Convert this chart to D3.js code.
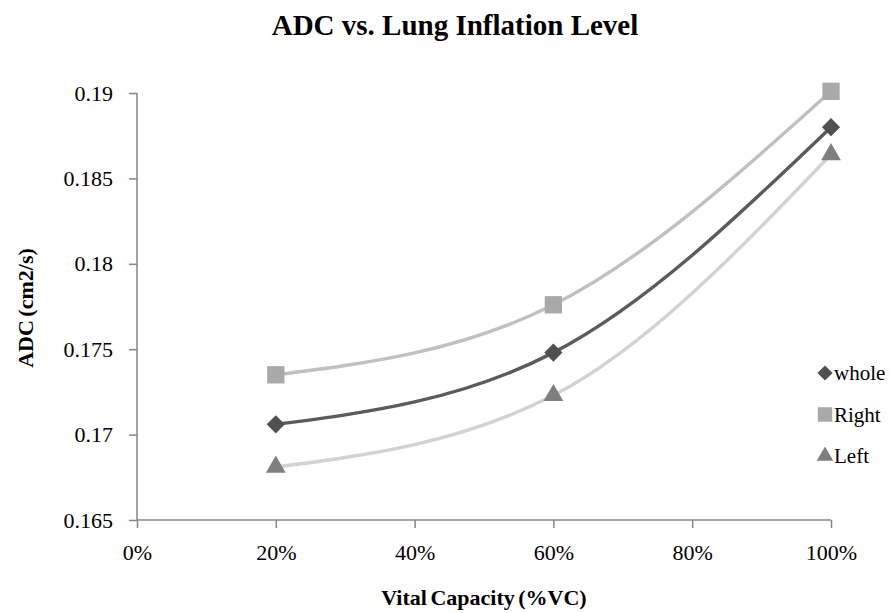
<!DOCTYPE html>
<html>
<head>
<meta charset="utf-8">
<script src="https://cdn.jsdelivr.net/npm/d3@7"></script>
<style>
  body { margin: 0; background: #fff; }
  text { font-family: "Liberation Serif", "Times New Roman", serif; fill: #000; }
</style>
</head>
<body>
<svg id="chart" width="895" height="613"></svg>
<script>
// data
var vcLevels = [0.2, 0.6, 1.0];
var seriesNames = ["whole", "Right", "Left"];
var wholeADC = [0.1706, 0.1748, 0.1880];
var rightADC = [0.1735, 0.1776, 0.1901];
var leftADC  = [0.1681, 0.1723, 0.1864];
var xTicks = [0, 0.2, 0.4, 0.6, 0.8, 1.0];
var yTicks = [0.165, 0.17, 0.175, 0.18, 0.185, 0.19];

var seriesStyle = {
  whole: { line: "#5b5b5b", marker: "#505050", shape: d3.symbolSquare, size: 165, rot: 45 },
  Right: { line: "#c0c0c0", marker: "#a9a9a9", shape: d3.symbolSquare, size: 300, rot: 0 },
  Left:  { line: "#d2d2d2", marker: "#7f7f7f", shape: d3.symbolTriangle, size: 170, rot: 0 }
};

var series = [
  { name: "whole", values: wholeADC },
  { name: "Right", values: rightADC },
  { name: "Left", values: leftADC }
];

var svg = d3.select("#chart");
var plotL = 137, plotR = 831, plotT = 93, plotB = 520;

var x = d3.scaleLinear().domain([0, 1]).range([plotL, plotR]);
var y = d3.scaleLinear().domain([0.165, 0.19]).range([plotB, plotT]);

// title
svg.append("text")
  .attr("x", 455).attr("y", 35)
  .attr("text-anchor", "middle")
  .style("font-size", "29px").style("font-weight", "bold")
  .text("ADC vs. Lung Inflation Level");

// axes
var xAxis = svg.append("g")
  .attr("transform", "translate(0," + plotB + ")")
  .call(d3.axisBottom(x).tickValues(xTicks).tickFormat(d3.format(".0%")).tickSize(8).tickPadding(16));
var yAxis = svg.append("g")
  .attr("transform", "translate(" + plotL + ",0)")
  .call(d3.axisLeft(y).tickValues(yTicks).tickFormat(function(d) { return +d.toFixed(3) + ""; }).tickSize(8).tickPadding(16));

[xAxis, yAxis].forEach(function(g) {
  g.select(".domain").attr("stroke", "#868686").attr("stroke-width", 1.5);
  g.selectAll(".tick line").attr("stroke", "#868686").attr("stroke-width", 1.5);
  g.selectAll(".tick text").style("font-size", "22px").style("font-family", "Liberation Serif").attr("fill", "#000");
});
// outward ticks only, with no outer end caps
xAxis.select(".domain").attr("d", "M" + plotL + ",0H" + plotR);
yAxis.select(".domain").attr("d", "M0," + plotB + "V" + plotT);

// axis titles
svg.append("text")
  .attr("x", 484).attr("y", 605)
  .attr("text-anchor", "middle")
  .style("font-size", "22px").style("font-weight", "bold")
  .style("word-spacing", "-2px")
  .text("Vital Capacity (%VC)");
svg.append("text")
  .attr("transform", "translate(33,308) rotate(-90)")
  .attr("text-anchor", "middle")
  .style("font-size", "22px").style("font-weight", "bold")
  .style("word-spacing", "-2px")
  .text("ADC (cm2/s)");

// smoothed lines
var line = d3.line()
  .x(function(d, i) { return x(vcLevels[i]); })
  .y(function(d) { return y(d); })
  .curve(d3.curveMonotoneX);

var order = ["Left", "Right", "whole"];
order.forEach(function(name) {
  var s = series.find(function(d) { return d.name === name; });
  svg.append("path")
    .datum(s.values)
    .attr("fill", "none")
    .attr("stroke", seriesStyle[name].line)
    .attr("stroke-width", 3.4)
    .attr("d", line);
});

// markers
series.forEach(function(s) {
  var st = seriesStyle[s.name];
  svg.append("g").selectAll("path")
    .data(s.values)
    .enter().append("path")
    .attr("transform", function(d, i) { return "translate(" + x(vcLevels[i]) + "," + y(d) + ") rotate(" + st.rot + ")"; })
    .attr("d", d3.symbol().type(st.shape).size(st.size))
    .attr("fill", st.marker);
});

// legend
var legend = svg.append("g").attr("transform", "translate(825,373)");
seriesNames.forEach(function(name, i) {
  var st = seriesStyle[name];
  var row = legend.append("g").attr("transform", "translate(0," + (i * 41.5) + ")");
  row.append("path")
    .attr("transform", "rotate(" + st.rot + ")")
    .attr("d", d3.symbol().type(st.shape).size(st.size * 0.7))
    .attr("fill", st.marker);
  row.append("text")
    .attr("x", 9).attr("y", 7)
    .style("font-size", "21px")
    .text(name);
});
</script>
</body>
</html>
